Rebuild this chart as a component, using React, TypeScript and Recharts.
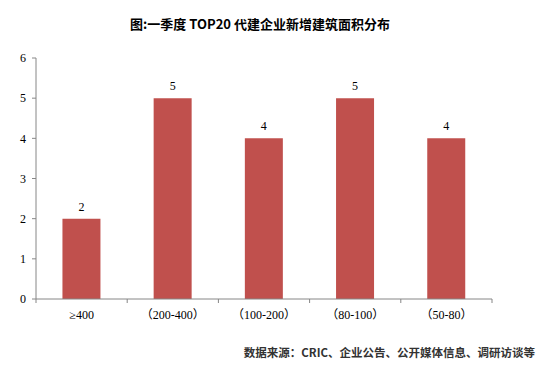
import { BarChart, Bar, XAxis, YAxis, LabelList } from 'recharts';

// categories and counts (number of companies per new-build area band)
const categories = ['≥400', '（200-400）', '（100-200）', '（80-100）', '（50-80）'];
const counts = [2, 5, 4, 5, 4];
const yTicks = [0, 1, 2, 3, 4, 5, 6];

const data = categories.map((name, i) => ({ name, value: counts[i] }));

const tickFont = "'Liberation Serif', 'Noto Sans CJK SC', serif";

function CategoryTick(props: any) {
  const { x, y, payload, index } = props;
  const half = payload?.offset ?? 45.6;
  return (
    <g>
      <line x1={x - half} y1={y} x2={x - half} y2={y + 4} stroke="#868686" />
      {index === categories.length - 1 && (
        <line x1={x + half} y1={y} x2={x + half} y2={y + 4} stroke="#868686" />
      )}
      <text x={x} y={y + 20} textAnchor="middle" fontSize={12} fill="#000" fontFamily={tickFont}>
        {payload.value}
      </text>
    </g>
  );
}

export default function App() {
  return (
    <div style={{ position: 'absolute', left: 0, top: 0, width: 541, height: 371, background: '#fff' }}>
      <div
        style={{
          position: 'absolute',
          top: 14,
          left: 123,
          width: 274,
          textAlign: 'center',
          whiteSpace: 'nowrap',
          fontFamily: "'Noto Sans CJK SC', sans-serif",
          fontWeight: 'bold',
          fontSize: 13,
          color: '#000',
        }}
      >
        图:一季度 TOP20 代建企业新增建筑面积分布
      </div>
      <BarChart
        width={541}
        height={371}
        data={data}
        margin={{ top: 58, right: 49, bottom: 42, left: 0 }}
        barCategoryGap="29%"
      >
        <XAxis
          dataKey="name"
          axisLine={{ stroke: '#868686' }}
          tickLine={false}
          tickSize={0}
          tickMargin={0}
          interval={0}
          height={30}
          tick={<CategoryTick />}
        />
        <YAxis
          domain={[0, 6]}
          ticks={yTicks}
          interval={0}
          width={36}
          axisLine={{ stroke: '#868686' }}
          tickLine={{ stroke: '#868686' }}
          tickSize={4}
          tickMargin={6}
          tick={{ fontSize: 12, fill: '#000', fontFamily: tickFont }}
        />
        <Bar dataKey="value" fill="#C0504D" isAnimationActive={false}>
          <LabelList dataKey="value" position="top" offset={8} fontSize={12} fill="#000" fontFamily={tickFont} />
        </Bar>
      </BarChart>
      <div
        style={{
          position: 'absolute',
          top: 344,
          right: 6,
          whiteSpace: 'nowrap',
          fontFamily: "'Noto Sans CJK SC', sans-serif",
          fontWeight: 'bold',
          fontSize: 11.5,
          color: '#333',
        }}
      >
        数据来源：CRIC、企业公告、公开媒体信息、调研访谈等
      </div>
    </div>
  );
}
